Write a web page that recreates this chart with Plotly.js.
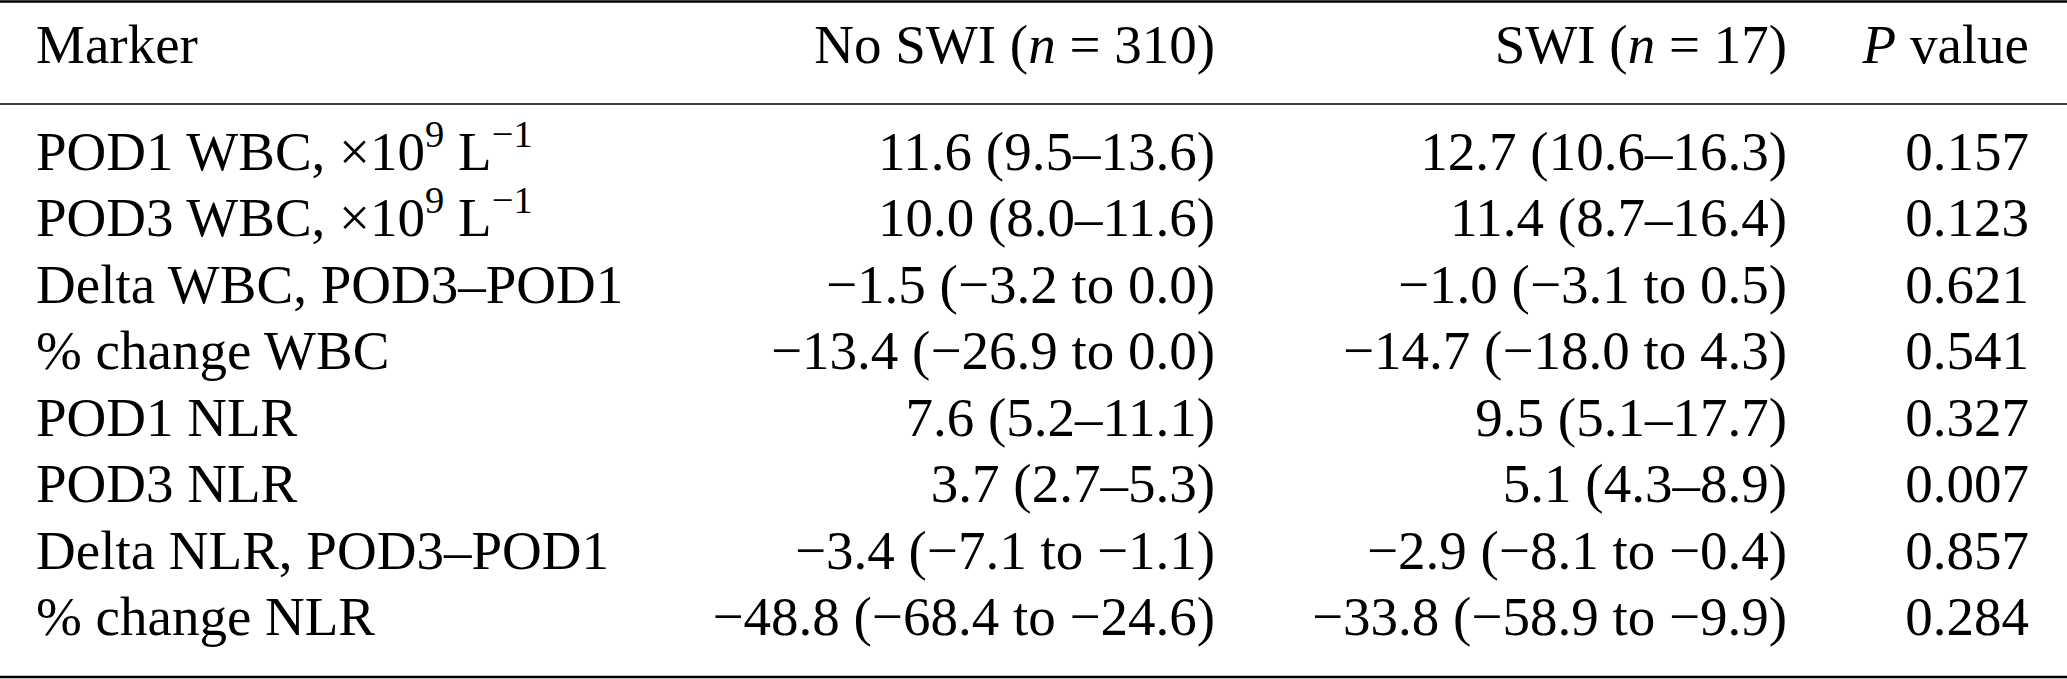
<!DOCTYPE html>
<html>
<head>
<meta charset="utf-8">
<script src="https://cdn.plot.ly/plotly-3.0.1.min.js"></script>
<style>
  html, body { margin: 0; padding: 0; background: #fff; }
  #tabela { width: 2067px; height: 679px; }
</style>
</head>
<body>
<div id="tabela"></div>
<script>
// table content
var naglowki = ['Marker', 'No SWI (<i>n</i> = 310)', 'SWI (<i>n</i> = 17)', '<i>P</i> value'];

var markery = [
	'POD1 WBC, ×10<sup>9</sup> L<sup>−1</sup>',
	'POD3 WBC, ×10<sup>9</sup> L<sup>−1</sup>',
	'Delta WBC, POD3–POD1',
	'% change WBC',
	'POD1 NLR',
	'POD3 NLR',
	'Delta NLR, POD3–POD1',
	'% change NLR'
];

var bezSWI = [
	'11.6 (9.5–13.6)',
	'10.0 (8.0–11.6)',
	'−1.5 (−3.2 to 0.0)',
	'−13.4 (−26.9 to 0.0)',
	'7.6 (5.2–11.1)',
	'3.7 (2.7–5.3)',
	'−3.4 (−7.1 to −1.1)',
	'−48.8 (−68.4 to −24.6)'
];

var zSWI = [
	'12.7 (10.6–16.3)',
	'11.4 (8.7–16.4)',
	'−1.0 (−3.1 to 0.5)',
	'−14.7 (−18.0 to 4.3)',
	'9.5 (5.1–17.7)',
	'5.1 (4.3–8.9)',
	'−2.9 (−8.1 to −0.4)',
	'−33.8 (−58.9 to −9.9)'
];

var wartosciP = ['0.157', '0.123', '0.621', '0.541', '0.327', '0.007', '0.857', '0.284'];

function rysuj_tabele(divName)
{
	// geometry in pixels
	var W = 2067, H = 679;
	var wiersz0 = 156, krok = 66.5;   // centre of first body row, row pitch
	var yNaglowek = 49;
	var kolumnyX = [36, 1215, 1787, 2029];
	var pozycje = ['middle right', 'middle left', 'middle left', 'middle left'];
	var kolumny = [markery, bezSWI, zSWI, wartosciP];

	// pixel -> row units
	function px(y) { return (y - wiersz0) / krok; }

	var czcionka = {family: 'Liberation Serif', size: 55, color: '#000'};

	var dane = [];
	for(var k=0;k<kolumny.length;k++)
	{
		var teksty = [naglowki[k]].concat(kolumny[k]);
		var ys = [px(yNaglowek)];
		var xs = [kolumnyX[k]];
		for(var i=0;i<kolumny[k].length;i++)
		{
			ys.push(i);
			xs.push(kolumnyX[k]);
		}
		dane.push({
			type: 'scatter',
			mode: 'text',
			x: xs,
			y: ys,
			text: teksty,
			textposition: pozycje[k],
			textfont: czcionka,
			marker: {size: 1},
			hoverinfo: 'skip',
			showlegend: false,
			cliponaxis: false
		});
	}

	var linia = function(y, w) {
		return {type: 'line', xref: 'paper', yref: 'y', x0: 0, x1: 1, y0: px(y), y1: px(y),
			line: {color: '#000', width: w}};
	};

	var layout =
	{
		width: W,
		height: H,
		margin: {l: 0, r: 0, t: 0, b: 0},
		paper_bgcolor: '#fff',
		plot_bgcolor: '#fff',
		showlegend: false,
		font: {family: 'Liberation Serif'},
		xaxis: {range: [0, W], visible: false, fixedrange: true},
		yaxis: {range: [px(H), px(0)], visible: false, fixedrange: true},
		shapes: [linia(1.5, 2.5), linia(104, 1.5), linia(677, 2.5)]
	};

	Plotly.newPlot(divName, dane, layout, {displayModeBar: false, staticPlot: true});
}

rysuj_tabele('tabela');
</script>
</body>
</html>
